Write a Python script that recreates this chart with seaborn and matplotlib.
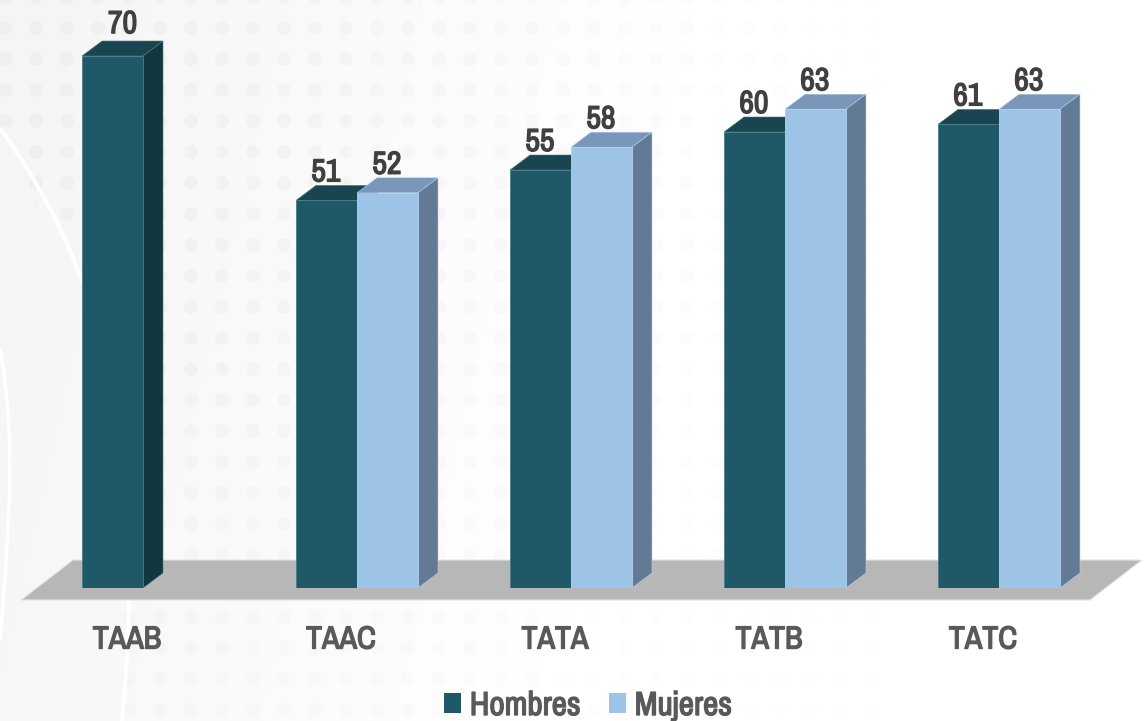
import matplotlib
matplotlib.use("Agg")
import matplotlib.patheffects as pe
import matplotlib.pyplot as plt
import numpy as np
import pandas as pd
import seaborn as sns
from matplotlib.patches import Patch, PathPatch, Polygon
from matplotlib.path import Path
from matplotlib.transforms import ScaledTranslation

categories = ["TAAB", "TAAC", "TATA", "TATB", "TATC"]
hombres = [70, 51, 55, 60, 61]
mujeres = [np.nan, 52, 58, 63, 63]
series_names = ["Hombres", "Mujeres"]

W, H = 1148, 721
BASE_Y = 588          # pixel row of the bar bottoms
PX_PER_UNIT = 7.6     # pixels per data unit
DEPTH_X, DEPTH_Y = 20, 15

colors = {"Hombres": "#1F5967", "Mujeres": "#9DC3E6"}
edges = {"Hombres": "#4B7C88", "Mujeres": "#B4D0EC"}
tops = {"Hombres": "#18454F", "Mujeres": "#7A97BA"}
sides = {"Hombres": "#13373F", "Mujeres": "#627A95"}
TEXT = "#595959"
VALUE = "#404040"

sns.set_theme(style="white")
plt.rcParams["font.family"] = ["Archivo Narrow", "Roboto Condensed", "Liberation Sans", "DejaVu Sans"]

# the narrow family only renders in its regular weight, so thicken it with a stroke
def thick(color, lw=1.0):
    return [pe.withStroke(linewidth=lw, foreground=color)]

df = pd.DataFrame({"category": categories, "Hombres": hombres, "Mujeres": mujeres})
df = df.melt(id_vars="category", var_name="sexo", value_name="valor")

fig = plt.figure(figsize=(W / 100, H / 100), dpi=100, facecolor="white")

# background: soft grey wash, dotted pattern and white swooshes
bg = fig.add_axes([0, 0, 1, 1], zorder=0)
yy, xx = np.mgrid[0:H, 0:W]
wash = 255 - 10 * np.clip(1.12 - xx / 680 - yy / 3000, 0, 1)
bg.imshow(wash, cmap="gray", vmin=0, vmax=255, extent=(0, W, H, 0), aspect="auto")

arc_pts = [(0, 128), (95, 260), (150, 430), (122, 721)]
t = np.linspace(0, 1, 200)
arc_x = sum(c * p[0] for c, p in zip([(1 - t) ** 3, 3 * t * (1 - t) ** 2, 3 * t ** 2 * (1 - t), t ** 3], arc_pts))
arc_y = sum(c * p[1] for c, p in zip([(1 - t) ** 3, 3 * t * (1 - t) ** 2, 3 * t ** 2 * (1 - t), t ** 3], arc_pts))

dx, dy = np.meshgrid(np.arange(5, 960, 31), np.arange(-3, 730, 31))
fade = np.clip(1.25 - dx / 720, 0, 1) * np.clip(1.3 - dy / 800, 0, 1)
keep = dx > np.interp(dy, arc_y, arc_x, left=-20)
bg.scatter(dx[keep], dy[keep], s=100, linewidths=0, color="#dcdcdc",
           alpha=0.22 * fade[keep])
swoosh = Path(arc_pts, [Path.MOVETO, Path.CURVE4, Path.CURVE4, Path.CURVE4])
bg.add_patch(PathPatch(swoosh, fill=False, ec="white", lw=3))
swoosh2 = Path([(0, 347), (14, 430), (12, 500), (0, 640)],
               [Path.MOVETO, Path.CURVE4, Path.CURVE4, Path.CURVE4])
bg.add_patch(PathPatch(swoosh2, fill=False, ec="white", lw=2.5))
bg.set_xlim(0, W)
bg.set_ylim(H, 0)
bg.axis("off")

# chart axes: bottom edge sits on the bar baseline
ax = fig.add_axes([0, (H - BASE_Y) / H, 1, BASE_Y / H], zorder=1)
ax.patch.set_visible(False)
sns.barplot(data=df, x="category", y="valor", hue="sexo", hue_order=series_names,
            palette=colors, width=122 / 214, gap=0, ax=ax, legend=False, saturation=1)
ax.set_xlim(-143 / 214, (W - 143) / 214)
ax.set_ylim(0, BASE_Y / PX_PER_UNIT)

ddx = DEPTH_X / 214
ddy = DEPTH_Y / PX_PER_UNIT

# floor under the bars
px_x = lambda p: (p - 143) / 214
px_y = lambda p: (BASE_Y - p) / PX_PER_UNIT
floor = Polygon([(px_x(21), px_y(600)), (px_x(1090), px_y(600)),
                 (px_x(1142), px_y(560)), (px_x(73), px_y(560))],
                closed=True, fc="#B7B7B7", ec="#E4E4E4", lw=0.8, clip_on=False, zorder=1)
ax.add_patch(floor)

# extrude the seaborn bars into boxes
for k, (name, container) in enumerate(zip(series_names, ax.containers)):
    for bar in container:
        h = bar.get_height()
        if not np.isfinite(h) or h == 0:
            continue
        x0, w = bar.get_x(), bar.get_width()
        x1 = x0 + w
        bar.set_edgecolor(edges[name])
        bar.set_linewidth(0.6)
        bar.set_zorder(3 + 2 * k)
        ax.add_patch(Polygon([(x0, h), (x1, h), (x1 + ddx, h + ddy), (x0 + ddx, h + ddy)],
                             closed=True, fc=tops[name], ec=edges[name], lw=0.4, zorder=2 + 2 * k))
        ax.add_patch(Polygon([(x1, 0), (x1 + ddx, ddy), (x1 + ddx, h + ddy), (x1, h)],
                             closed=True, fc=sides[name], ec=edges[name], lw=0.4, zorder=2 + 2 * k))
        is_tall = h == max(hombres)
        ax.annotate(f"{h:.0f}", (x0 + w / 2, h),
                    xytext=(7.2 if is_tall else -0.5, 16.5 if is_tall else 13.7),
                    textcoords="offset points", ha="center", va="baseline",
                    fontsize=23, color=VALUE, zorder=8, path_effects=thick(VALUE))

ax.set_xlabel("")
ax.set_ylabel("")
ax.set_yticks([])
ax.tick_params(axis="x", length=0, pad=27, labelsize=23, labelcolor=TEXT)
for lab in ax.get_xticklabels():
    lab.set_path_effects(thick(TEXT))
    lab.set_transform(lab.get_transform() + ScaledTranslation(-16 / 100, 0, fig.dpi_scale_trans))
sns.despine(ax=ax, left=True, bottom=True)

handles = [Patch(fc=colors[n], ec="none", label=n) for n in series_names]
leg = ax.legend(handles=handles, ncol=2, frameon=False, loc="center", bbox_to_anchor=(588 / W, -118 / BASE_Y),
                fontsize=24, labelcolor=TEXT, handlelength=0.52, handleheight=0.52,
                handletextpad=0.25, columnspacing=0.85, borderpad=0)
for txt in leg.get_texts():
    txt.set_path_effects(thick(TEXT))

fig.savefig("out.png", dpi=100)
